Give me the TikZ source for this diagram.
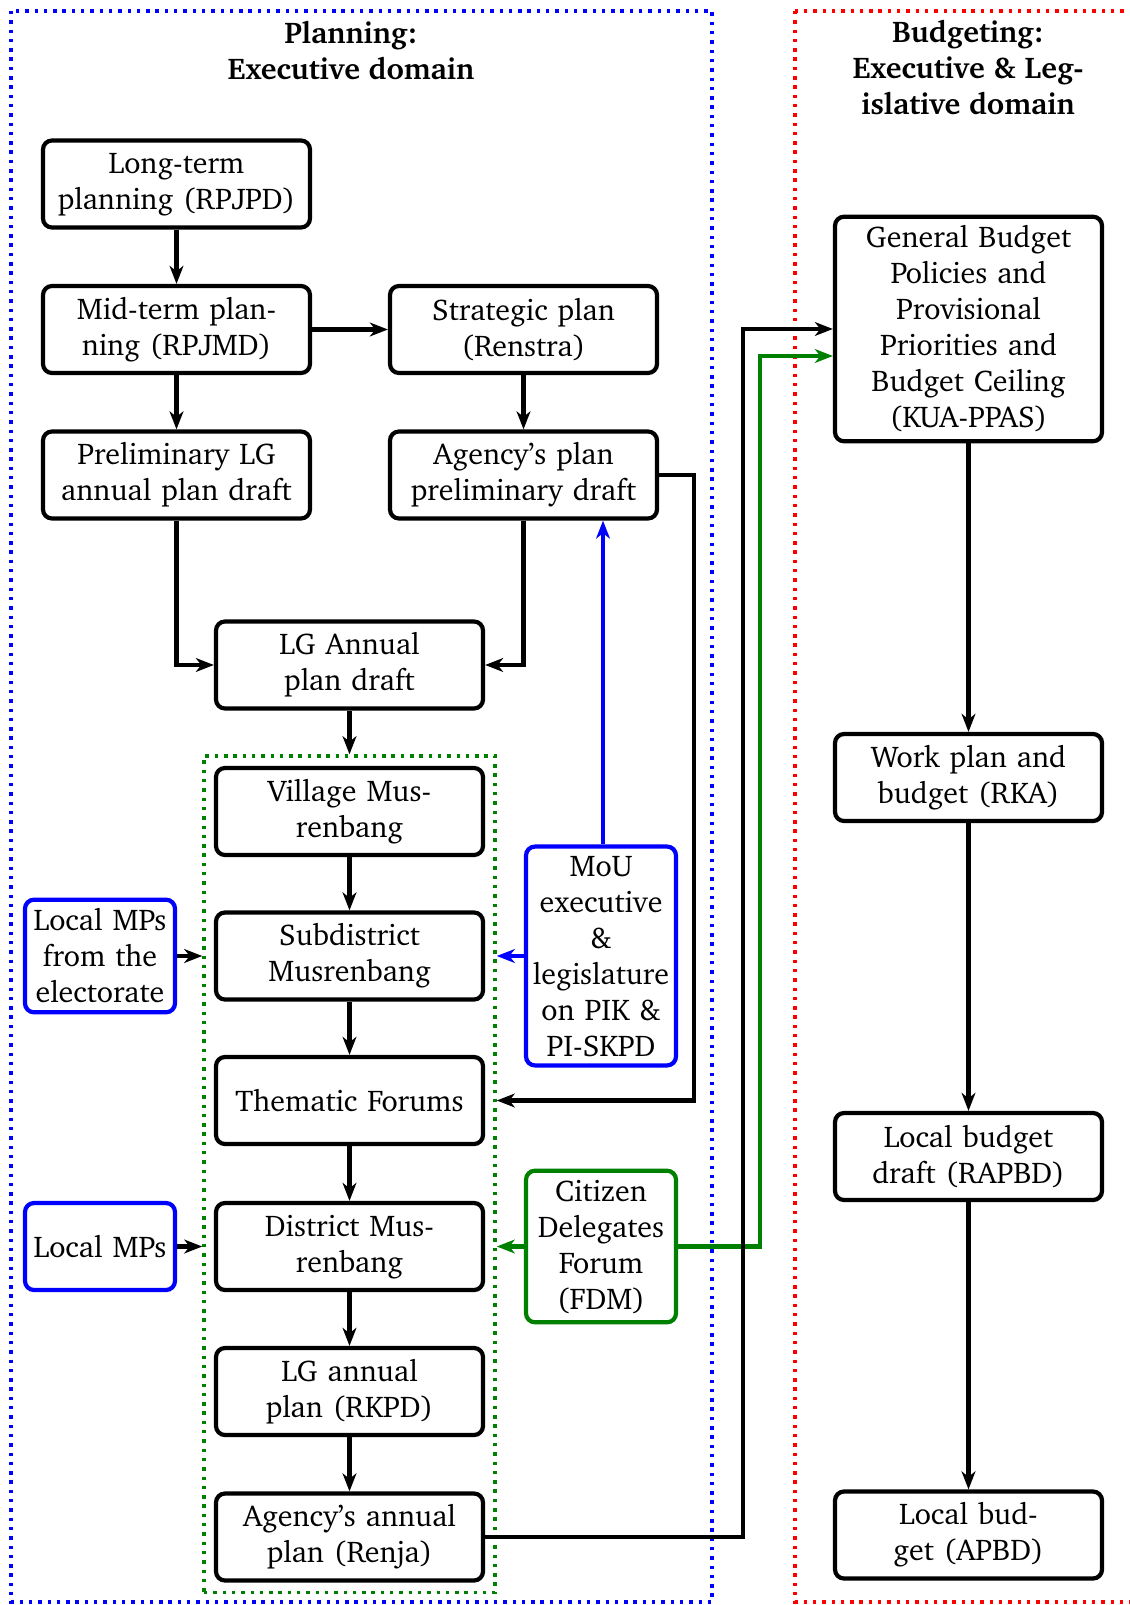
\documentclass[tikz,border=0pt]{standalone}
\usepackage[T1]{fontenc}
\usepackage{charter}
\usetikzlibrary{arrows.meta,fit,calc}
\definecolor{dgreen}{RGB}{0,128,0}
\begin{document}
\begin{tikzpicture}[x=0.33333pt,y=-0.33333pt,
  box/.style={draw,line width=1.4pt,rounded corners=3pt,align=center,text width=83pt,inner xsep=3pt,inner ysep=3pt,minimum height=29pt,font=\fontsize{10}{12}\selectfont},
  sbox/.style={box,text width=46pt,inner xsep=2pt},
  arr/.style={line width=1.35pt,-{Stealth[length=6pt,width=4.6pt,inset=1.8pt]}},
  title/.style={align=center,font=\fontsize{10}{12}\selectfont\bfseries},
  area/.style={line width=1.15pt,dash pattern=on 1.15pt off 1.95pt}
]
\useasboundingbox (0,0) rectangle (1129,1605);
% domains
\draw[area,blue] (11,11) rectangle (712,1602);
\draw[area,red] (795,11) rectangle (1140,1602);
\node[title] (tplan) at (351,50) {Planning:\\Executive domain};
\node[title] (tbud) at (968,67) {Budgeting:\\Executive \& Leg-\\islative domain};
% planning nodes
\node[box] (lt) at (176.5,184) {Long-term\\planning (RPJPD)};
\node[box] (mid) at (176.5,329.5) {Mid-term plan-\\ning (RPJMD)};
\node[box] (strat) at (523.5,329.5) {Strategic plan\\(Renstra)};
\node[box] (prelim) at (176.5,475) {Preliminary LG\\annual plan draft};
\node[box] (agency) at (523.5,475) {Agency's plan\\preliminary draft};
\node[box] (lgdraft) at (349.5,665) {LG Annual\\plan draft};
\node[box] (village) at (349.5,811.5) {Village Mus-\\renbang};
\node[box] (subd) at (349.5,956) {Subdistrict\\Musrenbang};
\node[box] (thematic) at (349.5,1100.5) {Thematic Forums};
\node[box] (district) at (349.5,1246.5) {District Mus-\\renbang};
\node[box] (rkpd) at (349.5,1391.5) {LG annual\\plan (RKPD)};
\node[box] (renja) at (349.5,1537) {Agency's annual\\plan (Renja)};
\node[area,draw=dgreen,inner sep=3.3pt,fit=(village)(renja)] (grp) {};
\node[sbox,draw=blue] (mps1) at (100,956) {Local MPs\\from the\\electorate};
\node[sbox,draw=blue] (mps2) at (100,1246.5) {Local MPs};
\node[sbox,draw=blue] (mou) at (601,956) {MoU\\executive\\\&\\legislature\\on PIK \&\\PI-SKPD};
\node[sbox,draw=dgreen] (cit) at (601,1246.5) {Citizen\\Delegates\\Forum\\(FDM)};
% budgeting nodes
\node[box] (gb) at (968.5,329) {General Budget\\Policies and\\Provisional\\Priorities and\\Budget Ceiling\\(KUA-PPAS)};
\node[box] (rka) at (968.5,777.5) {Work plan and\\budget (RKA)};
\node[box] (rapbd) at (968.5,1156.5) {Local budget\\draft (RAPBD)};
\node[box] (apbd) at (968.5,1535) {Local bud-\\get (APBD)};
% helper coordinates
\coordinate (kA) at (694,0);
\coordinate (kB) at (743,0);
\coordinate (kC) at (760,0);
\coordinate (gbg) at ($(gb.west)+(0,27)$);
\coordinate (mt) at ($(mou.north)+(2,0)$);
% connectors
\draw[arr] (lt) -- (mid);
\draw[arr] (mid) -- (strat);
\draw[arr] (mid) -- (prelim);
\draw[arr] (strat) -- (agency);
\draw[arr] (prelim.south) |- (lgdraft.west);
\draw[arr] (agency.south) |- (lgdraft.east);
\draw[arr] (lgdraft.south) -- (lgdraft.south |- grp.north);
\draw[arr] (village) -- (subd);
\draw[arr] (subd) -- (thematic);
\draw[arr] (thematic) -- (district);
\draw[arr] (district) -- (rkpd);
\draw[arr] (rkpd) -- (renja);
\draw[arr] (agency.east) -- (agency.east -| kA) |- (thematic.east -| grp.east);
\draw[arr] (mps1.east) -- (mps1.east -| grp.west);
\draw[arr] (mps2.east) -- (mps2.east -| grp.west);
\draw[arr,blue] (mou.west) -- (mou.west -| grp.east);
\draw[arr,blue] (mt) -- (mt |- agency.south);
\draw[arr,dgreen] (cit.west) -- (cit.west -| grp.east);
\draw[arr,dgreen] (cit.east) -- (cit.east -| kC) |- (gbg);
\draw[arr] (renja.east) -- (renja.east -| kB) |- (gb.west);
\draw[arr] (gb) -- (rka);
\draw[arr] (rka) -- (rapbd);
\draw[arr] (rapbd) -- (apbd);
\end{tikzpicture}
\end{document}
